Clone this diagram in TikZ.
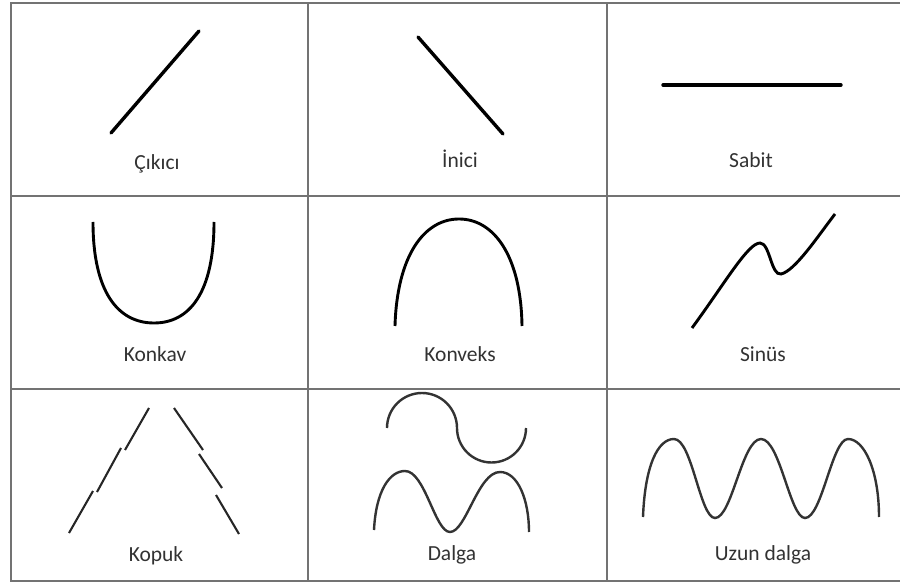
\documentclass[tikz,border=0pt]{standalone}
\usepackage{fontspec}
\setmainfont{Carlito}
\definecolor{gridgray}{RGB}{115,115,115}
\definecolor{labelgray}{RGB}{50,50,50}
\tikzset{
    gridline/.style={gridgray, line width=2pt},
    trend/.style={black, line width=3.4pt, line cap=round},
    curvetrend/.style={black, line width=2.9pt},
    broken/.style={black!85, line width=2.1pt},
    wave/.style={black!80, line width=2.4pt},
    caption/.style={anchor=base, inner sep=0pt, text=labelgray, font=\fontsize{21.5}{25}\selectfont}
}
\begin{document}
\begin{tikzpicture}[x=1pt, y=-1pt]
        \useasboundingbox (0,0) rectangle (900,585);

        % Draw grid
        \draw[gridline] (900,3) -- (11,3) -- (11,581) -- (900,581);
        \draw[gridline] (11,196) -- (900,196);
        \draw[gridline] (11,389) -- (900,389);
        \draw[gridline] (308,3) -- (308,581);
        \draw[gridline] (607,3) -- (607,581);

        % Draw first row: straight trends
        \draw[trend] (111,133) -- (199,31);
        \draw[trend] (418,37) -- (503,134);
        \draw[trend] (663,85) -- (841,85);

        % Draw second row: curved trends
        \draw[curvetrend] (93,222) .. controls (93,292) and (118,323) .. (154,323)
            .. controls (190,323) and (214,292) .. (214,222);
        \draw[curvetrend] (395,326) .. controls (397,256) and (424,219) .. (459,219)
            .. controls (494,219) and (521,256) .. (522,326);
        \draw[curvetrend] (692,328) .. controls (725,283) and (748,243) .. (760,243)
            .. controls (770,243) and (771,276) .. (781,274)
            .. controls (795,271) and (818,236) .. (835,214);

        % Draw third row: broken lines and waves
        \draw[broken] (149,408) -- (125,450);
        \draw[broken] (121,448) -- (97,492);
        \draw[broken] (93,491) -- (69,533);
        \draw[broken] (174,408) -- (203,450);
        \draw[broken] (199,454) -- (222,488);
        \draw[broken] (216,495) -- (239,534);
        \draw[wave] (387,428) arc (180:0:35pt) arc (180:360:34.5pt);
        \draw[wave] (374,530) .. controls (376,490) and (390,471) .. (405,471)
            .. controls (425,471) and (435,532) .. (450,532)
            .. controls (466,532) and (478,472) .. (500,472)
            .. controls (518,472) and (529,500) .. (529,532);
        \draw[wave] (643,517) .. controls (645,465) and (658,439) .. (674,439)
            .. controls (692,439) and (700,518) .. (715,518)
            .. controls (732,518) and (742,439) .. (761,439)
            .. controls (780,439) and (790,518) .. (805,518)
            .. controls (822,518) and (832,439) .. (848,439)
            .. controls (864,439) and (879,470) .. (879,517);

        % Draw labels
        \node[caption] (cikici) at (157,170) {Çıkıcı};
        \node[caption] (inici) at (460,168) {İnici};
        \node[caption] (sabit) at (751,168) {Sabit};
        \node[caption] (konkav) at (155,362) {Konkav};
        \node[caption] (konveks) at (460,362) {Konveks};
        \node[caption] (sinus) at (763,362) {Sinüs};
        \node[caption] (kopuk) at (156,561) {Kopuk};
        \node[caption] (dalga) at (452,560) {Dalga};
        \node[caption] (uzundalga) at (763,560) {Uzun dalga};
    \end{tikzpicture}
\end{document}
